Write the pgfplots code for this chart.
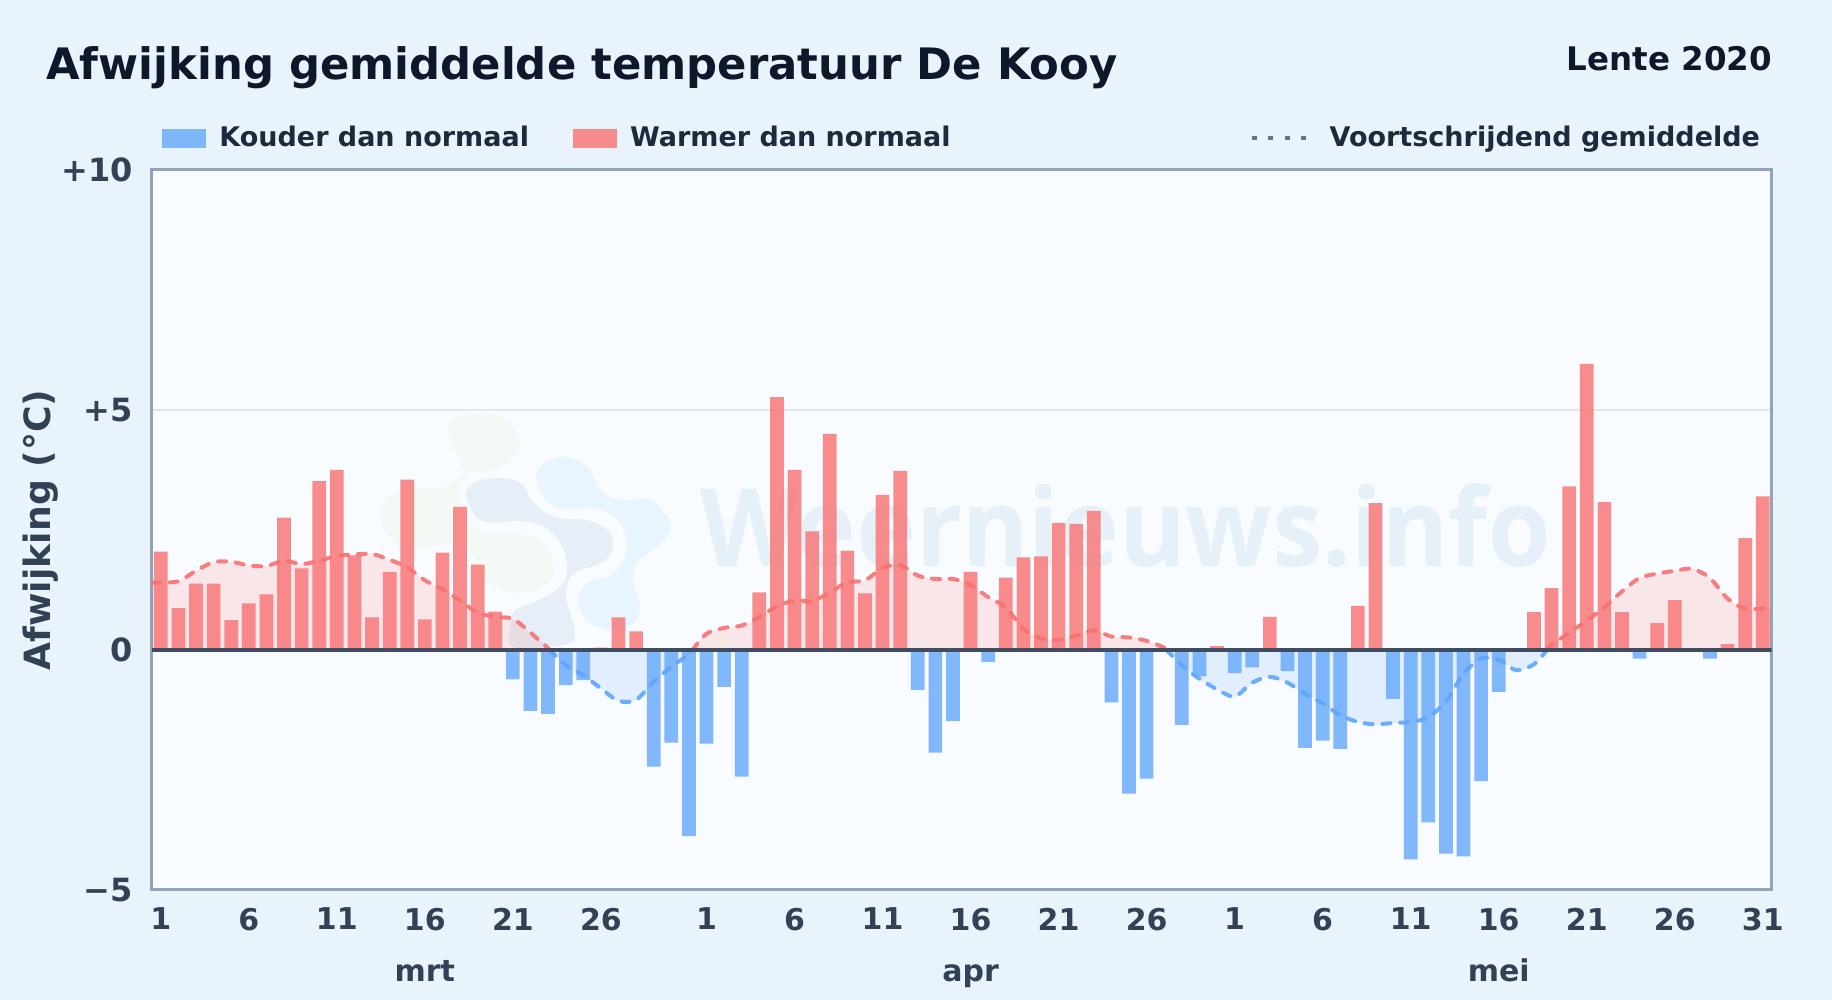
\documentclass[border=0pt]{standalone}
\usepackage{fontspec}
\setmainfont{DejaVu Sans}
\newfontfamily\wmfont{Open Sans}
\usepackage{pgfplots}
\usepackage{pgfplotstable}
\pgfplotsset{compat=1.18}

\definecolor{pagebg}{HTML}{E9F3FC}
\definecolor{plotbg}{HTML}{F8FBFF}
\definecolor{koud}{HTML}{60A5FA}
\definecolor{warm}{HTML}{F87171}
\definecolor{rand}{HTML}{94A3B8}
\definecolor{nul}{HTML}{3F4D63}
\definecolor{rooster}{HTML}{E2E8F0}
\definecolor{titel}{HTML}{0F172A}
\definecolor{leg}{HTML}{1E293B}
\definecolor{as}{HTML}{334155}
\definecolor{wm}{HTML}{E6F0F9}
\definecolor{blobgroen}{HTML}{F3F9F4}
\definecolor{blobdonker}{HTML}{E6EFF8}
\definecolor{blobblauw}{HTML}{E8F4FE}

% dag 1 = 1 maart, dag 32 = 1 april, dag 62 = 1 mei
\pgfplotstableread{
x y
1 2.05
2 0.87
3 1.385
4 1.385
5 0.62
6 0.97
7 1.16
8 2.76
9 1.70
10 3.52
11 3.75
12 1.97
13 0.68
14 1.63
15 3.55
16 0.64
17 2.03
18 2.98
19 1.78
20 0.80
26 0.05
27 0.68
28 0.39
35 1.20
36 5.27
37 3.75
38 2.47
39 4.50
40 2.07
41 1.18
42 3.23
43 3.73
47 1.63
49 1.51
50 1.93
51 1.95
52 2.65
53 2.63
54 2.90
61 0.08
64 0.69
69 0.92
70 3.06
79 0.79
80 1.29
81 3.41
82 5.96
83 3.08
84 0.79
86 0.56
87 1.04
90 0.12
91 2.33
92 3.20
}\warmer

\pgfplotstableread{
x y
21 -0.61
22 -1.27
23 -1.33
24 -0.73
25 -0.63
29 -2.43
30 -1.93
31 -3.88
32 -1.95
33 -0.77
34 -2.64
44 -0.83
45 -2.14
46 -1.48
48 -0.25
55 -1.09
56 -2.99
57 -2.68
59 -1.56
60 -0.55
62 -0.48
63 -0.36
65 -0.44
66 -2.04
67 -1.89
68 -2.06
71 -1.02
72 -4.36
73 -3.59
74 -4.24
75 -4.30
76 -2.73
77 -0.87
85 -0.18
89 -0.18
}\kouder

% voortschrijdend gemiddelde, per stuk boven of onder nul
\pgfplotstableread{
x y
0.5 1.40
1 1.41
2 1.43
3 1.65
4 1.83
5 1.84
6 1.76
7 1.75
8 1.86
9 1.79
10 1.86
11 1.96
12 1.99
13 2.00
14 1.88
15 1.72
16 1.45
17 1.27
18 1.03
19 0.78
20 0.69
21 0.65
22 0.36
23 0.04
23.1 0
}\avgA
\pgfplotstableread{
x y
23.1 0
24 -0.32
25 -0.53
26 -0.80
27 -1.06
28 -1.04
29 -0.66
30 -0.35
31 -0.09
31.2 0
}\avgB
\pgfplotstableread{
x y
31.2 0
32 0.34
33 0.46
34 0.51
35 0.69
36 0.91
37 1.03
38 1.02
39 1.20
40 1.41
41 1.45
42 1.71
43 1.77
44 1.55
45 1.48
46 1.48
47 1.36
48 1.10
49 0.89
50 0.44
51 0.24
52 0.21
53 0.30
54 0.41
55 0.28
56 0.26
57 0.19
58 0.05
58.14 0
}\avgC
\pgfplotstableread{
x y
58.14 0
59 -0.32
60 -0.60
61 -0.82
62 -0.97
63 -0.68
64 -0.56
65 -0.68
66 -0.92
67 -1.11
68 -1.36
69 -1.50
70 -1.55
71 -1.52
72 -1.50
73 -1.40
74 -1.07
75 -0.50
76 -0.18
77 -0.21
78 -0.42
79 -0.30
79.73 0
}\avgD
\pgfplotstableread{
x y
79.73 0
80 0.11
81 0.36
82 0.61
83 0.89
84 1.22
85 1.50
86 1.59
87 1.65
88 1.69
89 1.50
90 1.07
91 0.86
92 0.87
92.5 0.88
}\avgE

\begin{document}
\begin{tikzpicture}[x=1pt,y=1pt]
% 1 px = 0.5 pt
\fill[pagebg] (0,0) rectangle (916,500);
\fill[plotbg] (76,55) rectangle (885.8,415);

% logo en tekst in de achtergrond
\begin{scope}[shift={(175,310)},x=0.16667pt,y=-0.16667pt]
\fill[blobgroen] plot[smooth cycle,tension=0.6] coordinates {(295,160)(340,110)(430,100)(495,150)(500,220)(440,265)(340,280)(290,320)(200,325)(120,350)(90,415)(130,480)(210,500)(350,470)(400,400)};
\fill[blobgroen] plot[smooth cycle,tension=0.6] coordinates {(350,470)(470,460)(570,480)(610,550)(590,610)(500,640)(420,610)(370,530)};
\fill[blobdonker,draw=plotbg,line width=4pt] plot[smooth cycle,tension=0.6] coordinates {(335,340)(370,295)(450,282)(520,300)(560,360)(620,400)(720,410)(790,450)(800,510)(760,560)(680,590)(660,650)(685,740)(680,790)(620,810)(480,810)(470,730)(490,680)(560,650)(630,600)(635,530)(590,460)(510,435)(430,440)(370,420)};
\fill[blobblauw] plot[smooth cycle,tension=0.6] coordinates {(560,280)(600,240)(660,232)(720,270)(750,330)(810,360)(900,360)(950,410)(960,450)(920,500)(860,550)(850,610)(870,680)(850,730)(780,750)(710,720)(685,660)(710,610)(790,580)(830,510)(810,430)(740,385)(630,385)(580,350)};
\end{scope}
\node[anchor=base west,inner sep=0pt,text=wm,yscale=1.07,transform shape,font=\wmfont\bfseries\fontsize{50.6}{54}\selectfont] at (350.2,216.5) {Weernieuws.info};

\begin{axis}[
    at={(76pt,55pt)},
    anchor=south west,
    scale only axis,
    clip mode=individual,
    width=809.8pt,
    height=360pt,
    xmin=0.5, xmax=92.5,
    ymin=-5, ymax=10,
    xtick={1,6,11,16,21,26,32,37,42,47,52,57,62,67,72,77,82,87,92},
    xticklabels={1,6,11,16,21,26,1,6,11,16,21,26,1,6,11,16,21,26,31},
    ytick={-5,0,5,10},
    yticklabels={−5,0,+5,+10},
    major tick length=0pt,
    ymajorgrids,
    grid style={rooster,line width=1pt},
    axis line style={rand,line width=1.5pt},
    x tick label style={font=\bfseries\fontsize{15}{17}\selectfont,text=as,yshift=-5.5pt},
    y tick label style={font=\bfseries\fontsize{16}{18}\selectfont,text=as,xshift=-6pt},
    ylabel={Afwijking (°C)},
    ylabel style={font=\bfseries\fontsize{18.1}{20}\selectfont,text=as,at={(axis description cs:-0.0690,0.5)},anchor=center},
    legend cell align=left,
    legend style={
        at={(axis description cs:0.00617,1.0444)},anchor=west,
        draw=none,fill=none,inner sep=0pt,
        nodes={inner sep=0pt,font=\bfseries\fontsize{13.5}{15}\selectfont,text=leg},
        legend columns=3,
        /tikz/column 1/.style={column sep=6.5pt},
        /tikz/column 2/.style={column sep=22pt},
        /tikz/column 3/.style={column sep=6.5pt},
        /tikz/column 4/.style={column sep=149.5pt},
        /tikz/column 5/.style={column sep=10pt},
    },
]
% vlakken onder het gemiddelde
\addplot[forget plot,draw=none,fill=warm,fill opacity=.15,smooth,tension=0.5] table {\avgA} \closedcycle;
\addplot[forget plot,draw=none,fill=koud,fill opacity=.15,smooth,tension=0.5] table {\avgB} \closedcycle;
\addplot[forget plot,draw=none,fill=warm,fill opacity=.15,smooth,tension=0.5] table {\avgC} \closedcycle;
\addplot[forget plot,draw=none,fill=koud,fill opacity=.15,smooth,tension=0.5] table {\avgD} \closedcycle;
\addplot[forget plot,draw=none,fill=warm,fill opacity=.15,smooth,tension=0.5] table {\avgE} \closedcycle;

\addplot[ybar,bar width=6.85pt,bar shift=0pt,draw=none,fill=koud,fill opacity=.78,
    legend image code/.code={\fill[koud,fill opacity=.78] (0pt,-4.75pt) rectangle (22pt,4.75pt);}] table {\kouder};
\addlegendentry{Kouder dan normaal}
\addplot[ybar,bar width=6.85pt,bar shift=0pt,draw=none,fill=warm,fill opacity=.8,
    legend image code/.code={\fill[warm,fill opacity=.8] (0pt,-4.75pt) rectangle (22pt,4.75pt);}] table {\warmer};
\addlegendentry{Warmer dan normaal}

\pgfplotsset{
    lijn/.style={smooth,tension=0.5,line width=2pt,line cap=round,dash pattern=on 4pt off 4.9pt,draw opacity=.9},
}
\addplot[warm,lijn,
    legend image code/.code={\draw[color=rand!45!nul,draw opacity=1,line cap=butt,line width=2pt,dash pattern=on 2.5pt off 5.8pt] (0pt,0pt) -- (28pt,0pt);}] table {\avgA};
\addlegendentry{Voortschrijdend gemiddelde}
\addplot[forget plot,koud,lijn] table {\avgB};
\addplot[forget plot,warm,lijn] table {\avgC};
\addplot[forget plot,koud,lijn] table {\avgD};
\addplot[forget plot,warm,lijn] table {\avgE};

% nullijn
\addplot[forget plot,nul,line width=2pt] coordinates {(0.5,0) (92.5,0)};

\node[anchor=base,font=\bfseries\fontsize{15}{17}\selectfont,text=as] at (axis cs:16,-5) [yshift=-46pt] {mrt};
\node[anchor=base,font=\bfseries\fontsize{15}{17}\selectfont,text=as] at (axis cs:47,-5) [yshift=-46pt] {apr};
\node[anchor=base,font=\bfseries\fontsize{15}{17}\selectfont,text=as] at (axis cs:77,-5) [yshift=-46pt] {mei};
\end{axis}

\node[anchor=base west,inner sep=0pt,text=titel,font=\bfseries\fontsize{21.67}{24}\selectfont] at (23,460.1) {Afwijking gemiddelde temperatuur De Kooy};
\node[anchor=base east,inner sep=0pt,text=titel,font=\bfseries\fontsize{16.25}{18}\selectfont] at (886.3,464.5) {Lente 2020};
\end{tikzpicture}
\end{document}
